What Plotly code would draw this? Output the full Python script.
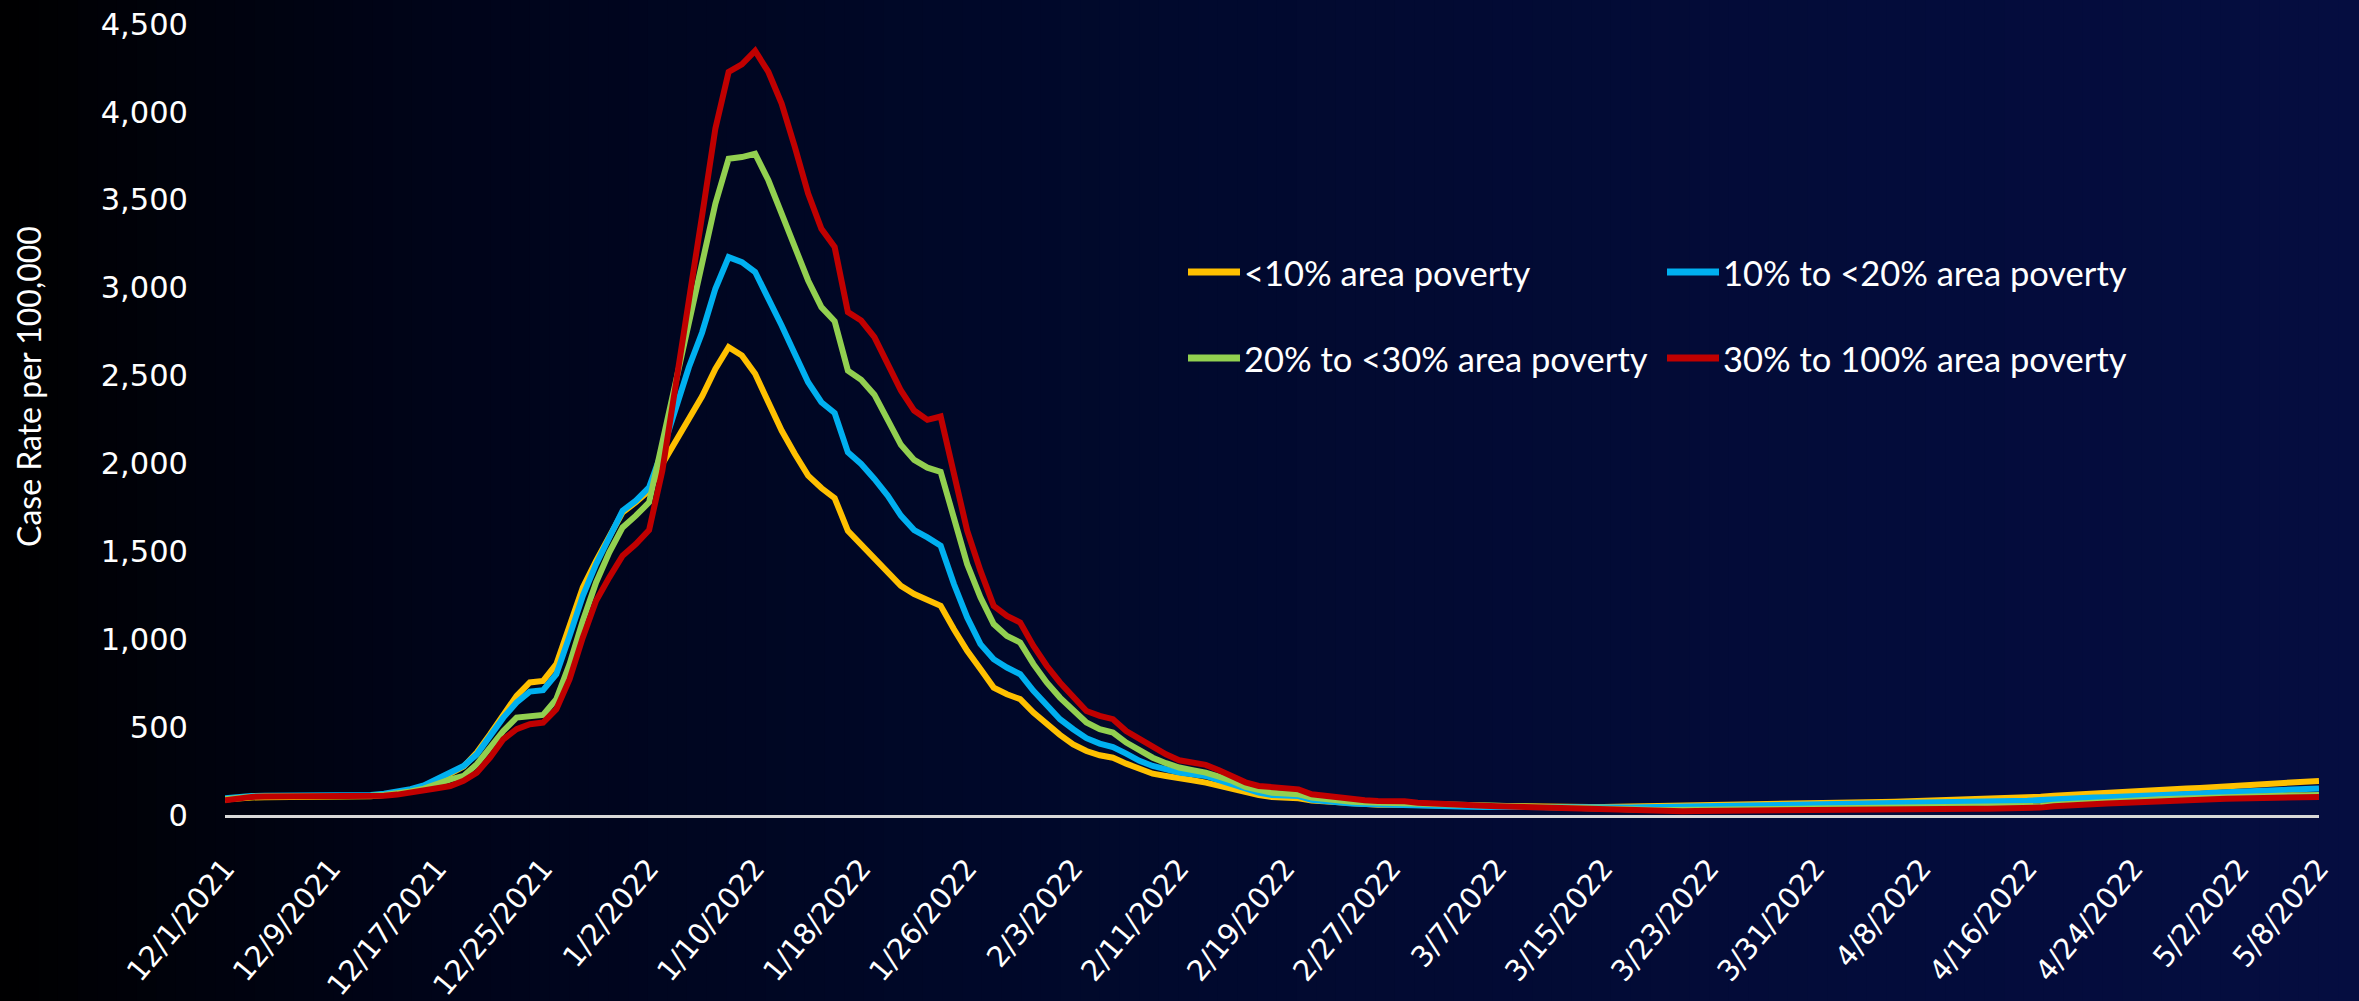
import plotly.graph_objects as go
import pandas as pd

# ---------------- data ----------------
dates = [f"{d.month}/{d.day}/{d.year}" for d in pd.date_range("2021-12-01", "2022-05-08", freq="D")]

tick_labels = ["12/1/2021", "12/9/2021", "12/17/2021", "12/25/2021", "1/2/2022", "1/10/2022",
               "1/18/2022", "1/26/2022", "2/3/2022", "2/11/2022", "2/19/2022", "2/27/2022",
               "3/7/2022", "3/15/2022", "3/23/2022", "3/31/2022", "4/8/2022", "4/16/2022",
               "4/24/2022", "5/2/2022", "5/8/2022"]

y_ticks = [0, 500, 1000, 1500, 2000, 2500, 3000, 3500, 4000, 4500]

series_names = ["<10% area poverty", "10% to <20% area poverty",
                "20% to <30% area poverty", "30% to 100% area poverty"]

pov_lt10 = [88, 96, 100, 101, 101, 100, 99, 99, 99, 100, 102, 106, 113, 124, 140, 162, 196,
            235, 275, 355, 459, 573, 678, 754, 763, 858, 1076, 1295, 1446, 1589, 1722, 1779, 1845,
            1997, 2120, 2255, 2382, 2538, 2661, 2614, 2510, 2348, 2187, 2054, 1931, 1860, 1803,
            1617, 1541, 1465, 1380, 1304, 1257, 1228, 1190, 1057, 934, 830, 725, 687, 659, 583, 516,
            456, 402, 364, 340, 326, 292, 260, 235,
            222, 213, 198, 184, 165, 146, 128, 114, 103, 99, 95, 82, 76, 70, 66, 62, 59, 58, 57,
            53, 51, 49, 47, 46, 45, 44, 44, 43, 43, 43, 43, 44, 45, 46, 47, 48, 50, 51, 52,
            53, 54, 55, 56, 57, 58, 59, 61, 62, 63, 65, 66, 68, 70, 72, 74, 76, 78, 80, 83,
            86, 89, 92, 94, 96, 98, 99, 104, 110, 115, 119, 122, 125, 128, 133, 139, 144, 148,
            151, 154, 158, 163, 168, 173, 180, 185, 189, 192, 194]

pov_10_20 = [95, 104, 108, 110, 110, 109, 108, 107, 107, 108, 110, 114, 121, 132, 147, 168, 205,
             241, 279, 345, 450, 554, 640, 702, 710, 801, 1019, 1247, 1427, 1589, 1731, 1788, 1864,
             2073, 2310, 2547, 2745, 2994, 3174, 3145, 3089, 2946, 2785, 2623, 2462, 2348, 2287,
             2063, 1997, 1912, 1817, 1703, 1621, 1579, 1532, 1314, 1124, 972, 886, 839, 801, 706, 621,
             545, 488, 437, 406, 387, 349, 308, 279,
             258, 241, 232, 222, 198, 175, 148, 128, 114, 112, 108, 86, 78, 70, 66, 63, 60, 59, 58,
             54, 52, 50, 48, 47, 46, 45, 44, 43, 42, 42, 41, 41, 41, 41, 42, 43, 44, 45, 46,
             47, 48, 49, 50, 51, 52, 53, 55, 56, 57, 58, 59, 60, 61, 63, 64, 66, 67, 69, 71,
             73, 75, 77, 78, 79, 80, 81, 85, 90, 94, 97, 99, 101, 103, 107, 112, 116, 119,
             121, 123, 126, 130, 134, 138, 143, 146, 148, 150, 151]

pov_20_30 = [90, 100, 104, 106, 106, 105, 104, 103, 103, 104, 106, 109, 114, 122, 134, 150, 180,
             203, 222, 289, 383, 478, 554, 564, 569, 659, 858, 1105, 1323, 1494, 1636, 1703, 1779,
             2120, 2460, 2800, 3140, 3478, 3734, 3743, 3762, 3611, 3421, 3240, 3041, 2889, 2809,
             2528, 2476, 2391, 2254, 2106, 2020, 1976, 1952, 1674, 1427, 1238, 1086, 1019, 981, 858, 754,
             668, 602, 526, 488, 469, 412, 368, 326,
             295, 270, 255, 241, 218, 194, 160, 140, 127, 123, 118, 99, 89, 82, 76, 72, 70, 69, 68,
             62, 58, 55, 52, 50, 48, 46, 44, 42, 40, 38, 36, 34, 32, 30, 29, 28, 28, 28, 28,
             28, 29, 29, 30, 31, 32, 33, 34, 35, 36, 37, 38, 38, 39, 40, 41, 41, 42, 43, 43,
             44, 44, 45, 45, 45, 45, 46, 51, 58, 63, 67, 70, 73, 76, 80, 85, 89, 92,
             94, 96, 99, 102, 105, 107, 109, 111, 112, 113, 114]

pov_30_100 = [84, 97, 103, 105, 105, 104, 103, 102, 102, 102, 104, 106, 110, 116, 126, 138, 152,
              165, 194, 241, 327, 431, 488, 516, 526, 602, 773, 1010, 1219, 1352, 1475, 1541, 1621,
              1959, 2430, 2910, 3410, 3905, 4227, 4271, 4347, 4227, 4047, 3800, 3535, 3335, 3231,
              2861, 2813, 2718, 2562, 2415, 2301, 2248, 2267, 1940, 1617, 1390, 1190, 1133, 1095, 962, 849,
              754, 678, 592, 564, 545, 478, 431, 393,
              345, 311, 298, 285, 255, 222, 186, 165, 156, 152, 146, 118, 108, 99, 89, 84, 80, 80, 78,
              70, 65, 61, 57, 55, 52, 50, 48, 46, 44, 41, 38, 35, 31, 28, 26, 24, 23, 23, 22,
              22, 23, 24, 25, 25, 26, 27, 28, 28, 29, 30, 30, 31, 32, 33, 33, 34, 34, 35, 35,
              36, 36, 36, 36, 36, 36, 37, 42, 50, 56, 60, 63, 66, 68, 72, 77, 80, 83,
              85, 87, 89, 92, 94, 96, 98, 100, 101, 102, 103]

series_values = [pov_lt10, pov_10_20, pov_20_30, pov_30_100]
series_colors = ["#FFC000", "#00B0F0", "#92D050", "#C00000"]

# ---------------- layout constants ----------------
W, H = 2359, 1001
ML, MR, MT, MB = 225, 40, 24, 186
PW, PH = W - ML - MR, H - MT - MB


def px_to_paper_x(px):
    return (px - ML) / PW


def px_to_paper_y(py):
    return (H - MB - py) / PH


fig = go.Figure()
for name, vals, col in zip(series_names, series_values, series_colors):
    fig.add_trace(go.Scatter(x=dates, y=vals, mode="lines", name=name,
                             line=dict(color=col, width=6), showlegend=False,
                             hoverinfo="x+y+name"))

# background gradient (black at left to deep navy at right)
anchors = [(0.0, (0, 0, 0)), (0.08, (0, 2, 12)), (0.2, (0, 4, 26)), (0.4, (0, 8, 40)),
           (0.6, (2, 10, 50)), (0.8, (3, 12, 58)), (1.0, (5, 13, 64))]


def grad(f):
    for (f0, c0), (f1, c1) in zip(anchors[:-1], anchors[1:]):
        if f0 <= f <= f1:
            t = (f - f0) / (f1 - f0)
            return tuple(round(a + (b - a) * t) for a, b in zip(c0, c1))
    return anchors[-1][1]


shapes = []
N = 120
for k in range(N):
    f0, f1 = k / N, (k + 1) / N
    r, g, b = grad((f0 + f1) / 2)
    shapes.append(dict(type="rect", xref="paper", yref="paper",
                       x0=px_to_paper_x(f0 * W) - 0.0005, x1=px_to_paper_x(f1 * W) + 0.0005,
                       y0=px_to_paper_y(H + 2), y1=px_to_paper_y(-2),
                       fillcolor=f"rgb({r},{g},{b})", line=dict(width=0), layer="below"))

# legend (manual, 2 x 2)
legend_pos = [(1188, 272), (1667, 272), (1188, 358), (1667, 358)]
annotations = []
for (lx, ly), name, col in zip(legend_pos, series_names, series_colors):
    shapes.append(dict(type="line", xref="paper", yref="paper",
                       x0=px_to_paper_x(lx), x1=px_to_paper_x(lx + 52),
                       y0=px_to_paper_y(ly), y1=px_to_paper_y(ly),
                       line=dict(color=col, width=7)))
    annotations.append(dict(xref="paper", yref="paper", x=px_to_paper_x(lx + 54),
                            y=px_to_paper_y(ly), xanchor="left", yanchor="middle",
                            text=name, showarrow=False,
                            font=dict(family="Lato", size=34.5, color="white")))

annotations.append(dict(xref="paper", yref="paper", x=px_to_paper_x(28), y=px_to_paper_y(387),
                        xanchor="center", yanchor="middle", textangle=-90,
                        text="Case Rate per 100,000", showarrow=False,
                        font=dict(family="Lato", size=32, color="white")))

fig.update_layout(
    width=W, height=H, autosize=False,
    margin=dict(l=ML, r=MR, t=MT, b=MB, pad=0),
    paper_bgcolor="#000000", plot_bgcolor="rgba(0,0,0,0)",
    shapes=shapes, annotations=annotations,
    xaxis=dict(type="category", range=[0, len(dates) - 1], tickmode="array",
               tickvals=tick_labels, ticktext=tick_labels, tickangle=-50,
               tickfont=dict(family="DejaVu Sans, Verdana, sans-serif", size=29, color="white"),
               showgrid=False, zeroline=False, showline=True, linecolor="#D9D9D9",
               linewidth=2.5, ticks="", ticklabelstandoff=22, ticklabelshift=0,
               automargin=False),
    yaxis=dict(range=[0, 4500], tickmode="array", tickvals=y_ticks,
               ticktext=[f"{v:,}" for v in y_ticks],
               tickfont=dict(family="DejaVu Sans, Verdana, sans-serif", size=30.5, color="white"),
               showgrid=False, zeroline=False, showline=False, ticks="",
               ticklabelstandoff=36, automargin=False),
    showlegend=False,
)

fig.write_html("out.html", config={"displayModeBar": False},
               post_script="document.body.style.margin='0';document.body.style.overflow='hidden';")
